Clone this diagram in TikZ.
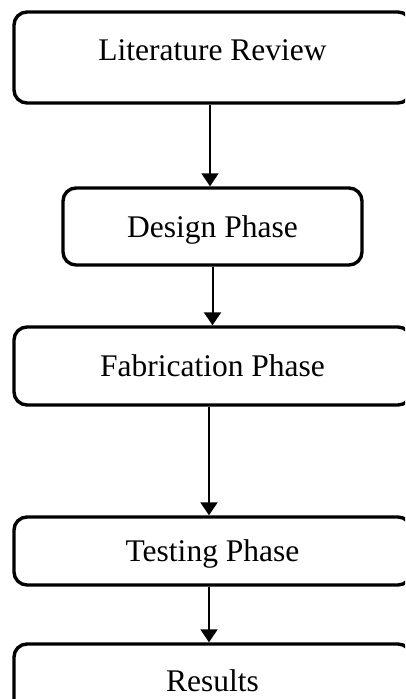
\documentclass[tikz,border=0pt]{standalone}
\usepackage{fontspec}
\setmainfont{Liberation Serif}
\usetikzlibrary{arrows.meta}
\begin{document}
\begin{tikzpicture}[x=1pt,y=-1pt,
  phase/.style={draw=black, line width=3.4pt, rounded corners=13pt, inner sep=0pt,
    font=\fontsize{31.5}{36}\selectfont, text height=21pt, text depth=0pt, align=center},
  flow/.style={line width=2pt, -{Triangle[length=13pt,width=17pt]}}]
\useasboundingbox (0,0) rectangle (405,699);
\clip (0,0) rectangle (405,699);
\node[phase, minimum width=397pt, minimum height=91pt, text depth=16pt] (lit) at (212.5,57.5) {Literature Review};
\node[phase, minimum width=299pt, minimum height=77pt] (des) at (212.5,226.5) {Design Phase};
\node[phase, minimum width=397pt, minimum height=78pt] (fab) at (212.5,366) {Fabrication Phase};
\node[phase, minimum width=397pt, minimum height=68pt] (tst) at (212.5,551) {Testing Phase};
\node[phase, minimum width=397pt, minimum height=73pt] (res) at (212.5,680.5) {Results};
\draw[flow] ([xshift=-2.5pt]lit.south) -- ([xshift=-2.5pt]des.north);
\draw[flow] (des.south) -- (fab.north);
\draw[flow] ([xshift=-3.5pt]fab.south) -- ([xshift=-3.5pt]tst.north);
\draw[flow] ([xshift=-3.5pt]tst.south) -- ([xshift=-3.5pt]res.north);
\end{tikzpicture}
\end{document}
